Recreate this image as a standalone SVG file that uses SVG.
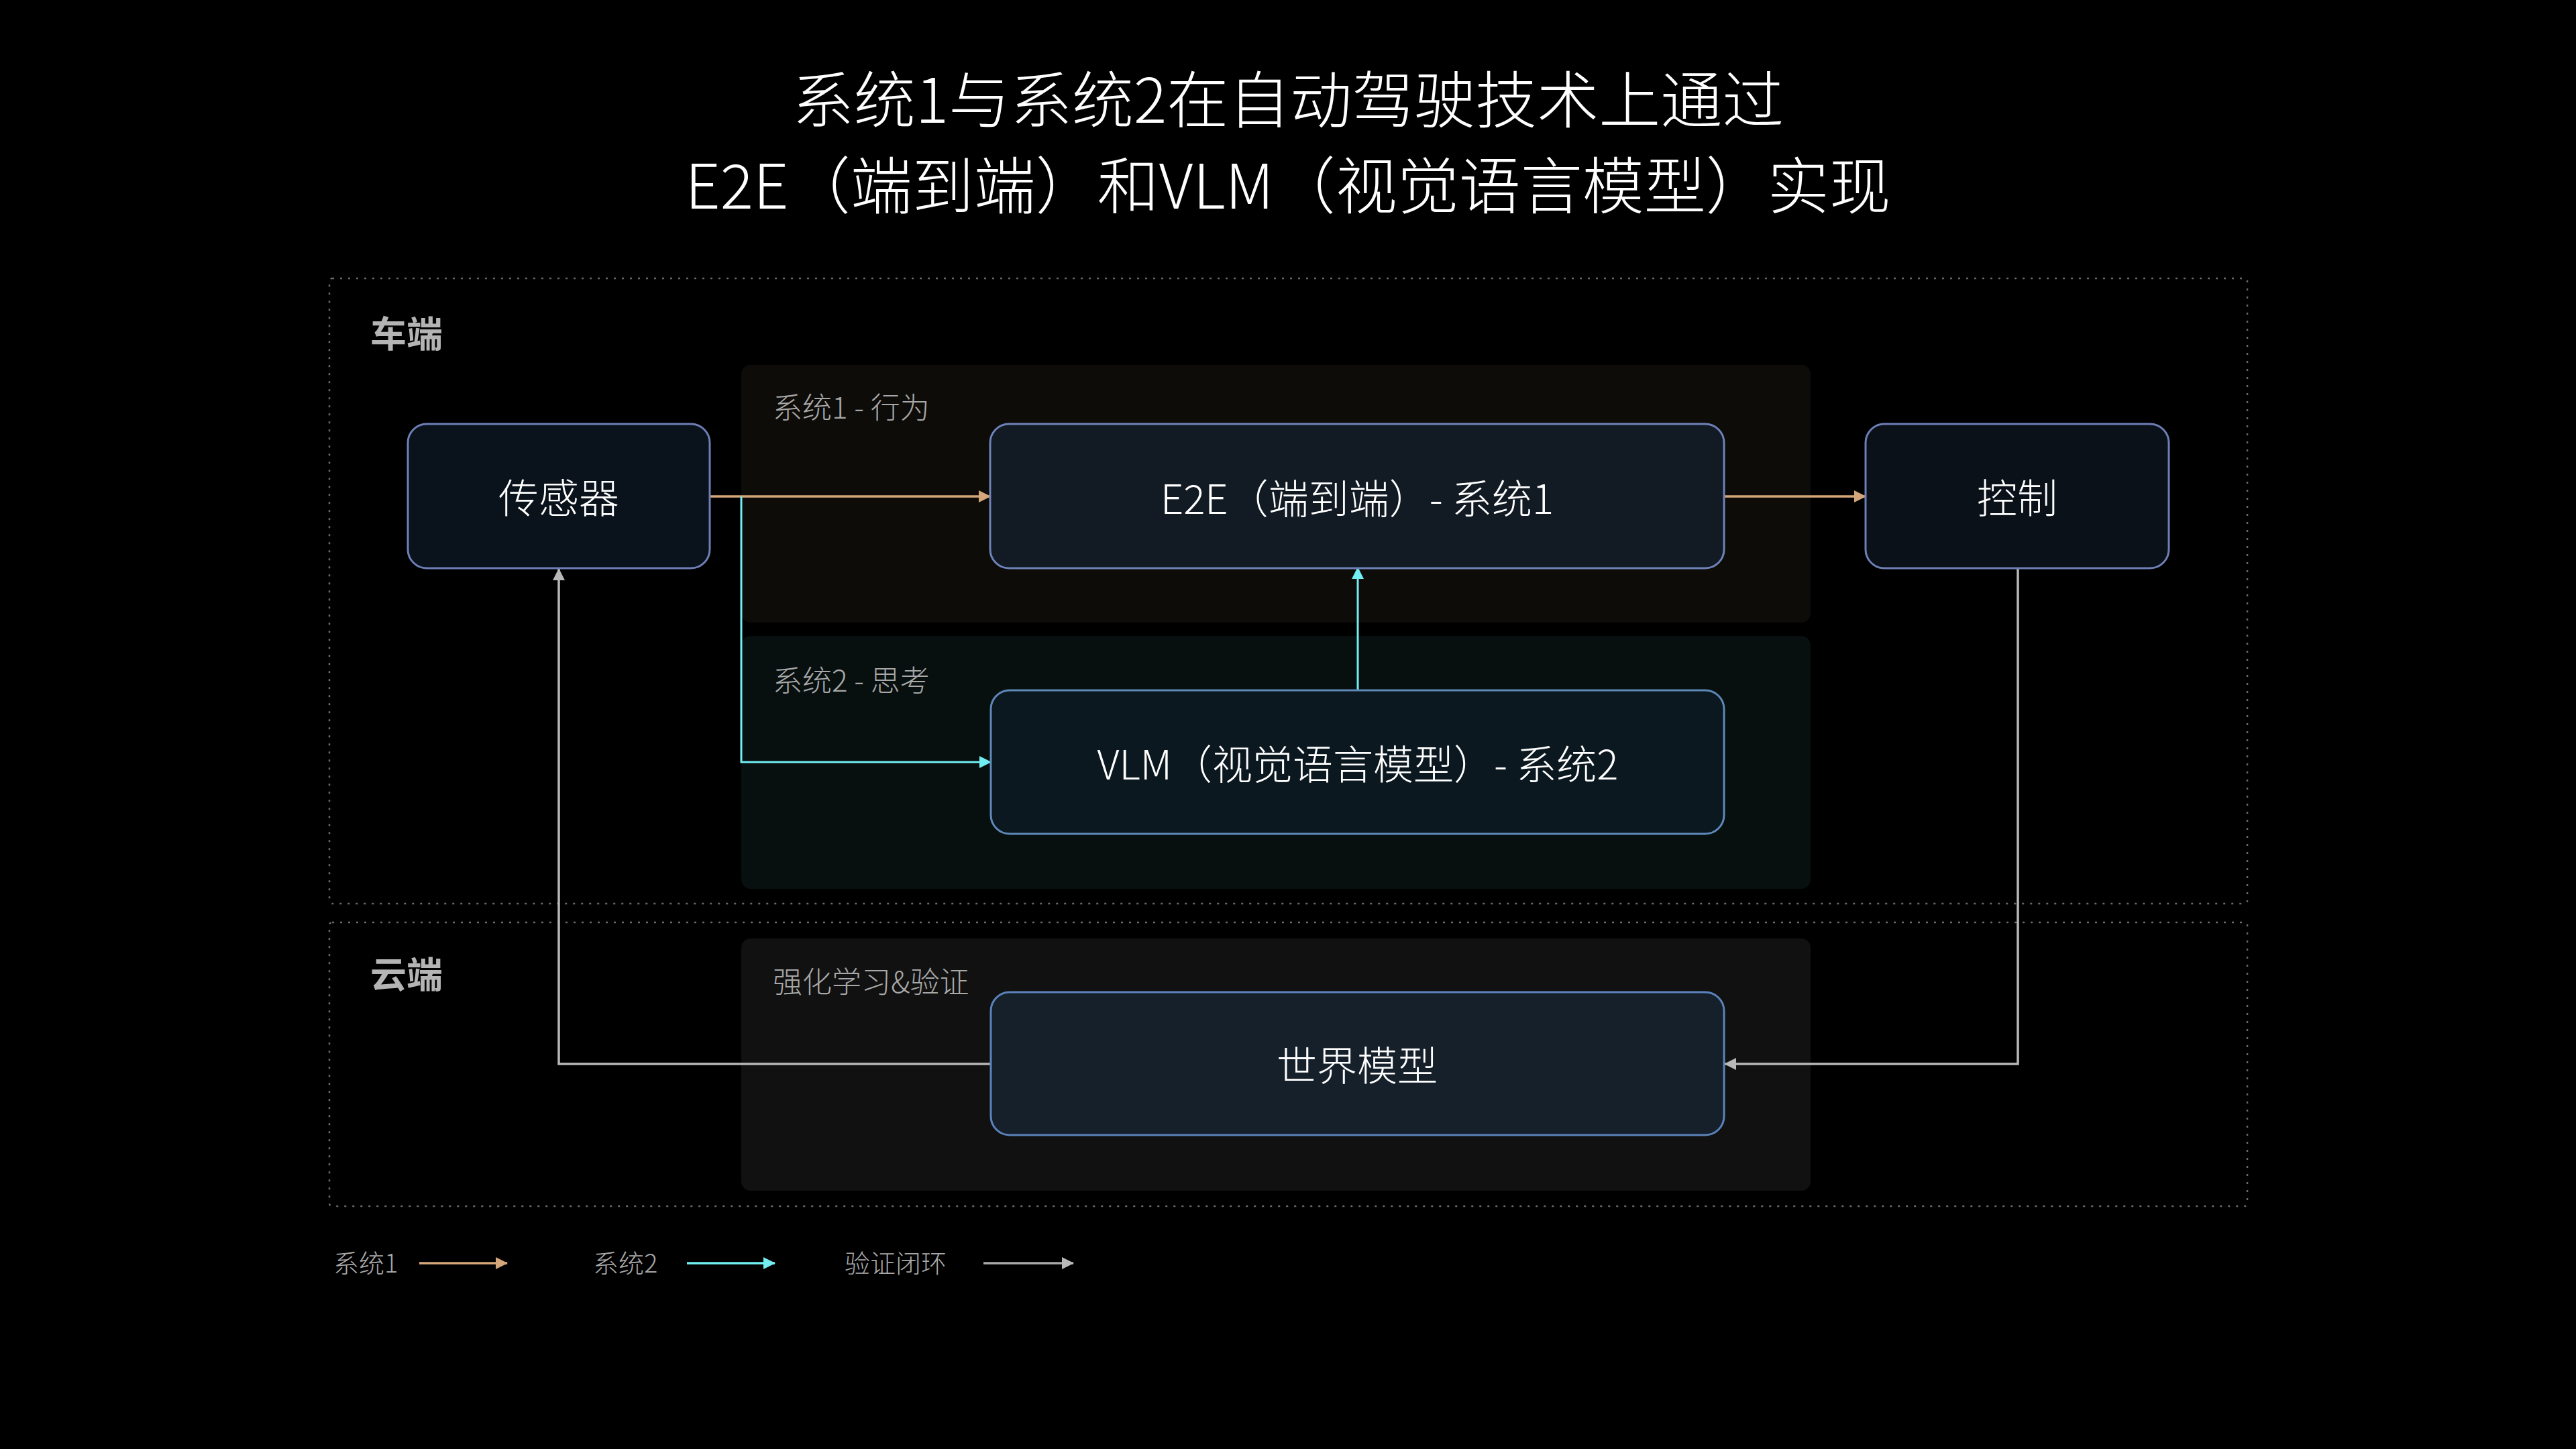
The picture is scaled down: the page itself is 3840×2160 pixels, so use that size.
<svg xmlns="http://www.w3.org/2000/svg" width="3840" height="2160" viewBox="0 0 3840 2160">
  <defs>
    <style>
      text { font-family: "Noto Sans CJK SC", "Noto Sans", "Liberation Sans", sans-serif; }
      .title { font-size: 92px; font-weight: 300; fill: #ffffff; text-anchor: middle; }
      .zone { fill: none; stroke: #6a6a6a; stroke-width: 2.5; stroke-dasharray: 3 9; }
      .zonelabel { font-size: 54px; font-weight: 700; fill: #b4b4b4; }
      .reglabel { font-size: 44px; font-weight: 300; fill: #a8a8a8; }
      .node rect { stroke-width: 3; }
      .nodetext { font-size: 60px; font-weight: 300; fill: #ffffff; text-anchor: middle; }
      .legend { font-size: 38px; font-weight: 300; fill: #a8a8a8; }
      .s1 { fill: none; stroke: #d4a679; stroke-width: 3.5; }
      .s2 { fill: none; stroke: #72eef2; stroke-width: 3; }
      .lp { fill: none; stroke: #b8b8b8; stroke-width: 3.5; }
    </style>
    <marker id="a1" markerUnits="userSpaceOnUse" markerWidth="20" markerHeight="20" refX="17" refY="9" orient="auto">
      <path d="M0,0 L18,9 L0,18 z" fill="#d4a679"/>
    </marker>
    <marker id="a2" markerUnits="userSpaceOnUse" markerWidth="20" markerHeight="20" refX="17" refY="9" orient="auto">
      <path d="M0,0 L18,9 L0,18 z" fill="#72eef2"/>
    </marker>
    <marker id="a3" markerUnits="userSpaceOnUse" markerWidth="20" markerHeight="20" refX="17" refY="9" orient="auto">
      <path d="M0,0 L18,9 L0,18 z" fill="#b8b8b8"/>
    </marker>
  </defs>

  <rect x="0" y="0" width="3840" height="2160" fill="#000000"/>

  <g id="title">
    <text class="title" x="1920" y="183">系统1与系统2在自动驾驶技术上通过</text>
    <text class="title" x="1920" y="311">E2E（端到端）和VLM（视觉语言模型）实现</text>
  </g>

  <g id="zone-vehicle">
    <rect class="zone" x="491" y="415" width="2859" height="932" rx="4"/>
    <text class="zonelabel" x="552" y="518">车端</text>
  </g>
  <g id="zone-cloud">
    <rect class="zone" x="491" y="1375" width="2859" height="423" rx="4"/>
    <text class="zonelabel" x="552" y="1473">云端</text>
  </g>

  <g id="region-system1">
    <rect x="1105" y="544" width="1594" height="384" rx="14" fill="#0e0c09"/>
    <text class="reglabel" x="1152" y="624">系统1 - 行为</text>
  </g>
  <g id="region-system2">
    <rect x="1105" y="948" width="1594" height="377" rx="14" fill="#070f0f"/>
    <text class="reglabel" x="1152" y="1031">系统2 - 思考</text>
  </g>
  <g id="region-rl">
    <rect x="1105" y="1399" width="1594" height="376" rx="14" fill="#111111"/>
    <text class="reglabel" x="1152" y="1480">强化学习&amp;验证</text>
  </g>

  <g id="connectors">
    <path class="s1" d="M1058,740 H1476" marker-end="url(#a1)"/>
    <path class="s1" d="M2570,740 H2781" marker-end="url(#a1)"/>
    <path class="s2" d="M1105,740 V1136 H1477" marker-end="url(#a2)"/>
    <path class="s2" d="M2024,1029 V846" marker-end="url(#a2)"/>
    <path class="lp" d="M3008,847 V1586 H2571" marker-end="url(#a3)"/>
    <path class="lp" d="M1477,1586 H833 V848" marker-end="url(#a3)"/>
  </g>

  <g id="node-sensor" class="node">
    <rect x="608" y="632" width="450" height="215" rx="28" fill="#0a121b" stroke="#6e7fb6"/>
    <text class="nodetext" x="833" y="765">传感器</text>
  </g>
  <g id="node-e2e" class="node">
    <rect x="1476" y="632" width="1094" height="215" rx="28" fill="#121a24" stroke="#6e82b8"/>
    <text class="nodetext" x="2023" y="766">E2E（端到端）- 系统1</text>
  </g>
  <g id="node-control" class="node">
    <rect x="2781" y="632" width="452" height="215" rx="28" fill="#0a1119" stroke="#6e7fb6"/>
    <text class="nodetext" x="3007" y="765">控制</text>
  </g>
  <g id="node-vlm" class="node">
    <rect x="1477" y="1029" width="1093" height="214" rx="28" fill="#0c1820" stroke="#5e88b8"/>
    <text class="nodetext" x="2024" y="1162">VLM（视觉语言模型）- 系统2</text>
  </g>
  <g id="node-world" class="node">
    <rect x="1477" y="1479" width="1093" height="213" rx="28" fill="#16202b" stroke="#5b83bb"/>
    <text class="nodetext" x="2023" y="1611">世界模型</text>
  </g>

  <g id="legend">
    <text class="legend" x="497" y="1897">系统1</text>
    <path class="s1" d="M625,1883 H756" marker-end="url(#a1)"/>
    <text class="legend" x="884" y="1897">系统2</text>
    <path class="s2" d="M1024,1883 H1155" marker-end="url(#a2)" style="stroke-width:3.5"/>
    <text class="legend" x="1259" y="1897">验证闭环</text>
    <path class="lp" d="M1466,1883 H1600" marker-end="url(#a3)" style="stroke:#a8a8a8"/>
  </g>
</svg>
